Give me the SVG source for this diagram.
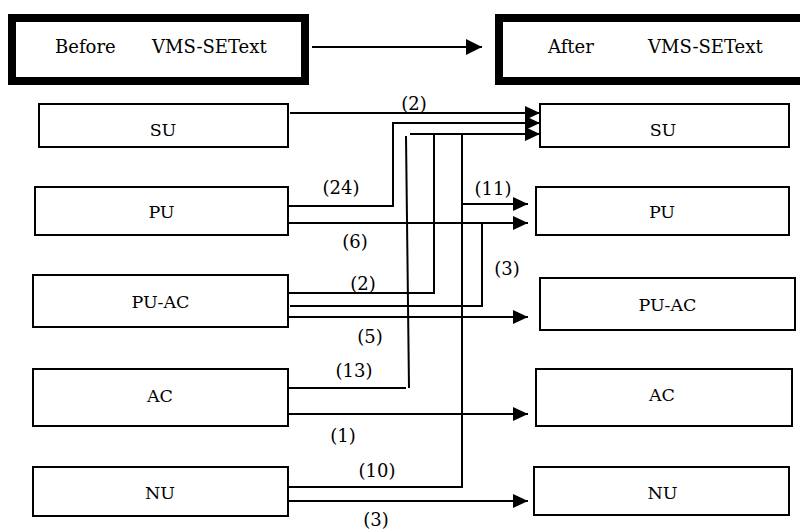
<svg xmlns="http://www.w3.org/2000/svg" width="800" height="530" viewBox="0 0 800 530">
<style>
  .thick{fill:#fff;stroke:#000;stroke-width:8}
  .box{fill:#fff;stroke:#000;stroke-width:2}
  .hdr{font-family:"DejaVu Serif","Liberation Serif",serif;font-size:18px;fill:#000}
  .lbl{font-family:"DejaVu Serif","Liberation Serif",serif;font-size:17.5px;fill:#000;text-anchor:middle}
  .num{font-family:"DejaVu Serif","Liberation Serif",serif;font-size:18px;fill:#000;text-anchor:middle}
  .ln{fill:none;stroke:#000;stroke-width:2}
  .arr{marker-end:url(#ah)}
</style>
<defs>
  <marker id="ah" markerUnits="userSpaceOnUse" markerWidth="15" markerHeight="14" refX="15" refY="7" orient="auto">
    <path d="M0,0 L15,7 L0,14 z" fill="#000"/>
  </marker>
  <marker id="ahBig" markerUnits="userSpaceOnUse" markerWidth="16" markerHeight="16" refX="16" refY="8" orient="auto">
    <path d="M0,0 L16,8 L0,16 z" fill="#000"/>
  </marker>
</defs>
<rect width="800" height="530" fill="#fff"/>

<g id="before">
  <rect class="thick" x="12" y="18" width="293" height="63"/>
  <text class="hdr" x="55" y="53">Before</text>
  <text class="hdr" x="152" y="53">VMS-SEText</text>
</g>
<g id="after">
  <rect class="thick" x="499" y="18" width="310" height="63"/>
  <text class="hdr" x="548" y="53">After</text>
  <text class="hdr" x="648" y="53">VMS-SEText</text>
</g>

<g id="su-left"><rect class="box" x="39" y="104" width="249" height="43"/><text class="lbl" x="163" y="136">SU</text></g>
<g id="pu-left"><rect class="box" x="35" y="187" width="253" height="48"/><text class="lbl" x="161.5" y="218">PU</text></g>
<g id="puac-left"><rect class="box" x="33" y="275" width="255" height="52"/><text class="lbl" x="160.5" y="308">PU-AC</text></g>
<g id="ac-left"><rect class="box" x="33" y="369" width="255" height="57"/><text class="lbl" x="160" y="402">AC</text></g>
<g id="nu-left"><rect class="box" x="33" y="467" width="255" height="49"/><text class="lbl" x="160" y="499">NU</text></g>

<g id="su-right"><rect class="box" x="540" y="104" width="249" height="43"/><text class="lbl" x="663" y="136">SU</text></g>
<g id="pu-right"><rect class="box" x="536" y="187" width="253" height="48"/><text class="lbl" x="662" y="218">PU</text></g>
<g id="puac-right"><rect class="box" x="540" y="278" width="255" height="52"/><text class="lbl" x="667.5" y="311">PU-AC</text></g>
<g id="ac-right"><rect class="box" x="536" y="369" width="256" height="57"/><text class="lbl" x="662" y="401">AC</text></g>
<g id="nu-right"><rect class="box" x="534" y="467" width="255" height="48"/><text class="lbl" x="662.5" y="499">NU</text></g>

<g id="connectors">
  <line x1="312" y1="47" x2="482" y2="47" class="ln" marker-end="url(#ahBig)"/>
  <path class="ln arr" d="M290,113 H540"/>
  <path class="ln arr" d="M288,206 H393 V123 H540"/>
  <path class="ln" d="M288,388 H406 M409,388 L406,136"/>
  <path class="ln arr" d="M410,134 H540"/>
  <path class="ln" d="M288,293 H434 V134"/>
  <path class="ln" d="M288,487 H462 V134"/>
  <path class="ln arr" d="M462,204 H528"/>
  <path class="ln arr" d="M288,223 H528"/>
  <path class="ln" d="M290,306 H482 V223"/>
  <path class="ln arr" d="M288,317 H528"/>
  <path class="ln arr" d="M288,414 H528"/>
  <path class="ln arr" d="M288,501 H528"/>

  <text class="num" x="414" y="110">(2)</text>
  <text class="num" x="341" y="194">(24)</text>
  <text class="num" x="493" y="195">(11)</text>
  <text class="num" x="355" y="248">(6)</text>
  <text class="num" x="507" y="275">(3)</text>
  <text class="num" x="363" y="290">(2)</text>
  <text class="num" x="370" y="343">(5)</text>
  <text class="num" x="354" y="377">(13)</text>
  <text class="num" x="343" y="442">(1)</text>
  <text class="num" x="377" y="477">(10)</text>
  <text class="num" x="376" y="526">(3)</text>
</g>
</svg>
